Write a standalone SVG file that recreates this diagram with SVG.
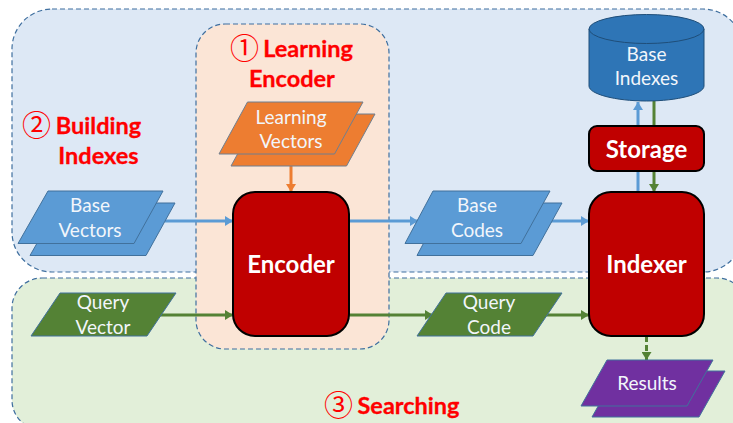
<svg xmlns="http://www.w3.org/2000/svg" width="733" height="423" viewBox="0 0 733 423">
<defs>
<marker id="ab" markerUnits="userSpaceOnUse" markerWidth="10" markerHeight="10" refX="8" refY="5" orient="auto"><path d="M0 0L8 5L0 10Z" fill="#5b9bd5"/></marker>
<marker id="ag" markerUnits="userSpaceOnUse" markerWidth="10" markerHeight="10" refX="8" refY="5" orient="auto"><path d="M0 0L8 5L0 10Z" fill="#548235"/></marker>
<marker id="ao" markerUnits="userSpaceOnUse" markerWidth="10" markerHeight="10" refX="8" refY="5" orient="auto"><path d="M0 0L8 5L0 10Z" fill="#ed7d31"/></marker>
</defs>
<style>
.panel{stroke:#3f6f9f;stroke-width:1.2;stroke-dasharray:5 3}
.para{stroke:#41719c;stroke-width:1}
.blue{fill:#5b9bd5}.orange{fill:#ed7d31;stroke:#6f7f90}.green{fill:#548235}.purple{fill:#7030a0}
.box{fill:#c00000;stroke:#000;stroke-width:2}
.conn{fill:none;stroke-width:3}
text{font-family:"Lato","Open Sans",sans-serif;text-anchor:middle}
.lb{font-size:19px;fill:#f2f6fb}
.bb{font-size:24px;font-weight:700;fill:#fff}
.rt{font-size:23.5px;font-weight:700;fill:#ff0000;stroke:#ff0000;stroke-width:.3}
.num{font-family:"Noto Sans CJK SC","Noto Sans CJK JP",sans-serif;font-weight:400;font-size:29px;fill:#ff0000}
</style>
<g id="panel-building"><rect class="panel" x="12" y="9" width="731" height="263" rx="40" fill="#dde8f5"/></g>
<g id="panel-searching"><rect class="panel" x="12" y="278" width="735" height="152" rx="30" fill="#e2efd9"/></g>
<g id="panel-learning"><rect class="panel" x="196" y="24" width="193" height="325" rx="29" fill="#fbe5d6"/></g>
<g id="connectors">
<path class="conn" stroke="#ed7d31" marker-end="url(#ao)" d="M291 166V192"/>
<path class="conn" stroke="#5b9bd5" marker-end="url(#ab)" d="M165 221H233"/>
<path class="conn" stroke="#5b9bd5" marker-end="url(#ab)" d="M349 221H418"/>
<path class="conn" stroke="#5b9bd5" marker-end="url(#ab)" d="M550 221H589"/>
<path class="conn" stroke="#548235" marker-end="url(#ag)" d="M160 315H233"/>
<path class="conn" stroke="#548235" marker-end="url(#ag)" d="M349 315H433"/>
<path class="conn" stroke="#548235" marker-end="url(#ag)" d="M546 315H589"/>
<path class="conn" stroke="#5b9bd5" marker-end="url(#ab)" d="M638 192V102"/>
<path class="conn" stroke="#548235" marker-end="url(#ag)" d="M654 101V192"/>
<path class="conn" stroke="#548235" stroke-dasharray="6 3" marker-end="url(#ag)" d="M646.5 336V360"/>
</g>
<g id="learning-vectors">
<polygon class="para orange" points="259.500,114 375,114 346.500,166 231,166"/>
<polygon class="para orange" points="247.500,102 363,102 334.500,154 219,154"/>
<text class="lb" x="291" y="124">Learning</text><text class="lb" x="291" y="148">Vectors</text>
</g>
<g id="base-vectors">
<polygon class="para blue" points="60,203 175,203 146,255.500 30,255.500"/>
<polygon class="para blue" points="48,191 163,191 134,243.500 18,243.500"/>
<text class="lb" x="90" y="212">Base</text><text class="lb" x="90" y="237">Vectors</text>
</g>
<g id="base-codes">
<polygon class="para blue" points="445,203 562,203 533,255.500 417,255.500"/>
<polygon class="para blue" points="433,191 550,191 521,243.500 405,243.500"/>
<text class="lb" x="477" y="212">Base</text><text class="lb" x="477" y="237">Codes</text>
</g>
<g id="query-vector">
<polygon class="para green" points="60,293 176,293 147,336 31,336"/>
<text class="lb" x="103" y="309">Query</text><text class="lb" x="103" y="334">Vector</text>
</g>
<g id="query-code">
<polygon class="para green" points="446,293 562,293 533,336 417,336"/>
<text class="lb" x="489" y="309">Query</text><text class="lb" x="489" y="334">Code</text>
</g>
<g id="results">
<polygon class="para purple" points="618,371 725,371 699,417 592,417"/>
<polygon class="para purple" points="607,360 713,360 687,406 581,406"/>
<text class="lb" x="647" y="390">Results</text>
</g>
<g id="encoder"><rect class="box" x="233" y="192" width="116" height="144" rx="22"/><text class="bb" x="291" y="273">Encoder</text></g>
<g id="indexer"><rect class="box" x="589" y="192" width="115" height="144" rx="22"/><text class="bb" x="646.500" y="273">Indexer</text></g>
<g id="storage"><rect class="box" x="589" y="126" width="115" height="45" rx="8"/><text class="bb" x="646.500" y="158">Storage</text></g>
<g id="base-indexes">
<path d="M589 29V86C589 94 615 101 646.500 101S704 94 704 86V29Z" fill="#2e75b6" stroke="#1f4e79"/>
<ellipse cx="646.500" cy="29" rx="57.500" ry="14.500" fill="#2e75b6" stroke="#1f4e79"/>
<text class="lb" x="646.500" y="61">Base</text><text class="lb" x="646.500" y="85">Indexes</text>
</g>
<g id="label-learning"><text class="num" x="244.500" y="59">①</text><text class="rt" x="308" y="57">Learning</text><text class="rt" x="292" y="87">Encoder</text></g>
<g id="label-building"><text class="num" x="36.500" y="136">②</text><text class="rt" x="98.500" y="134">Building</text><text class="rt" x="98.500" y="164">Indexes</text></g>
<g id="label-searching"><text class="num" x="338.500" y="416">③</text><text class="rt" x="408.500" y="414">Searching</text></g>
</svg>
